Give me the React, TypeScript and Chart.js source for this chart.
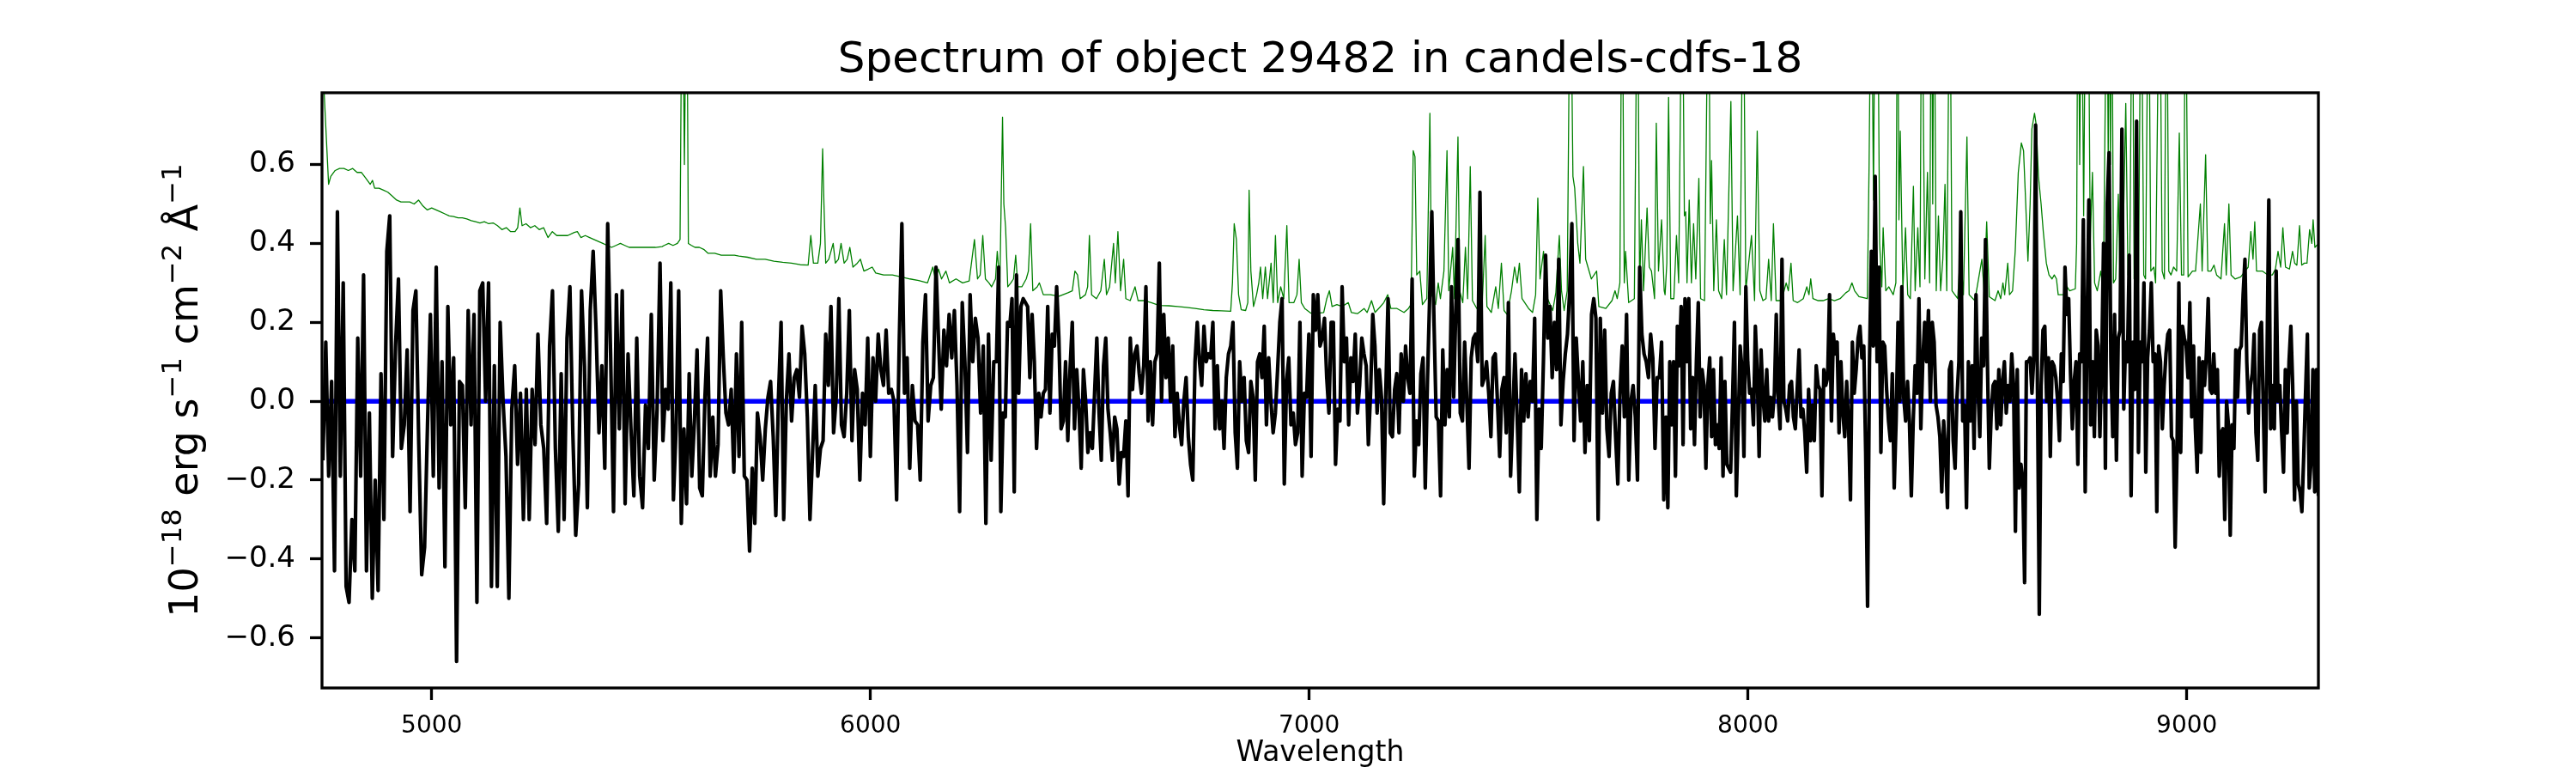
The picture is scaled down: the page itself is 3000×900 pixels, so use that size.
import React, { useEffect, useRef } from 'react';
import { Chart, registerables } from 'chart.js';

Chart.register(...registerables);

// ---- text ----
const TITLE = 'Spectrum of object 29482 in candels-cdfs-18';
const X_LABEL = 'Wavelength';
// y label as runs of [text, isSuperscript]
const Y_LABEL_RUNS: [string, boolean][] = [
  ['10', false], ['\u221218', true], [' erg s', false], ['\u22121', true],
  [' cm', false], ['\u22122', true], [' \u00C5', false], ['\u22121', true],
];

// ---- axes ----
const X_MIN = 4750;
const X_MAX = 9300;
const Y_MIN = -0.727;
const Y_MAX = 0.782;
const xTicks = [5000, 6000, 7000, 8000, 9000];
const yTicks = [-0.6, -0.4, -0.2, 0, 0.2, 0.4, 0.6];

const segmentEdges = [4752, 5527, 6287, 7050, 7813, 8576, 9300];

const fluxSeg1 = [
  -0.15, 0.15, -0.19, 0.05, -0.43, 0.48, -0.19, 0.30, -0.47, -0.51, -0.30, -0.43, 0.16, -0.19, 0.32, -0.43,
  -0.03, -0.50, -0.20, -0.48, 0.07, -0.30, 0.38, 0.47, -0.14, 0.14, 0.31, -0.12, -0.06, 0.13, -0.28, 0.23,
  0.28, -0.11, -0.44, -0.37, -0.06, 0.22, -0.19, 0.34, -0.22, 0.10, -0.42, 0.24, -0.06, 0.11, -0.66, 0.05,
  0.04, -0.27, 0.23, -0.06, 0.22, -0.51, 0.28, 0.30, 0.00, 0.30, -0.47, 0.09, -0.47, 0.20, 0.00, -0.14,
  -0.50, -0.02, 0.09, -0.16, 0.02, -0.30, 0.03, -0.30, 0.03, -0.11, 0.17, -0.06, -0.12, -0.31, 0.14, 0.28,
  -0.12, -0.33, 0.07, -0.30, 0.16, 0.29, -0.08, -0.34, -0.21, 0.28, 0.09, -0.27, 0.23, 0.38, 0.18, -0.08,
  0.09, -0.17, 0.45, 0.12, -0.28, 0.27, -0.07, 0.28, -0.26, 0.12, -0.07, -0.24, 0.16, -0.19, -0.27, -0.01,
  -0.12, 0.22, -0.20, -0.02, 0.35,
];
const fluxSeg2 = [
  -0.10, 0.03, -0.02, 0.30, -0.25, -0.07, 0.28, -0.31, -0.07, -0.26, 0.07, -0.19, -0.05, 0.13, -0.22, -0.24,
  0.01, 0.16, -0.19, -0.04, -0.19, -0.11, 0.28, 0.11, -0.03, -0.06, 0.03, -0.18, 0.12, -0.14, 0.20, -0.19,
  -0.20, -0.38, -0.17, -0.31, -0.03, -0.09, -0.20, -0.07, 0.01, 0.05, -0.09, -0.29, 0.01, 0.20, -0.30, 0.00,
  0.12, -0.05, 0.06, 0.08, 0.01, 0.19, 0.12, -0.04, -0.30, -0.13, 0.04, -0.19, -0.12, -0.10, 0.17, 0.04,
  0.24, -0.08, 0.01, 0.26, -0.06, -0.09, 0.02, 0.23, -0.10, 0.08, 0.03, -0.20, 0.02, -0.06, 0.16, -0.14,
  0.11, 0.00, 0.17, 0.08, 0.04, 0.18, 0.02, 0.03, 0.00, -0.25, 0.15, 0.45, 0.02, 0.11, -0.17, 0.04,
  -0.05, -0.06, -0.20, 0.15, 0.27, -0.05, 0.04, 0.06, 0.34, 0.15, -0.02, 0.18, 0.09, 0.22, 0.11, 0.23,
  0.04, -0.28, 0.25, 0.10, -0.13, 0.27, 0.10, 0.21, 0.16, -0.03, 0.14, -0.31, 0.17, -0.15, 0.10,
];
const fluxSeg3 = [
  0.10, 0.34, -0.28, -0.03, -0.04, 0.20, 0.19, 0.26, -0.23, 0.32, 0.02, 0.24, 0.26, 0.25, 0.24, 0.06,
  0.22, 0.10, -0.12, 0.02, -0.04, 0.02, 0.03, 0.24, -0.03, 0.17, 0.14, 0.29, 0.16, -0.07, -0.05, 0.10,
  -0.10, 0.08, 0.20, -0.07, 0.08, -0.02, -0.17, 0.08, 0.00, -0.13, -0.08, -0.12, 0.02, 0.16, -0.03, -0.15,
  0.09, 0.16, -0.02, -0.08, -0.15, -0.04, -0.07, -0.21, -0.13, -0.14, -0.05, -0.24, 0.16, 0.03, 0.12, 0.14,
  0.07, 0.02, 0.09, 0.29, -0.05, 0.10, -0.06, 0.10, 0.12, 0.35, 0.00, 0.22, 0.06, 0.16, 0.00, 0.14,
  -0.09, 0.02, -0.06, -0.11, 0.00, 0.06, -0.09, -0.16, -0.20, 0.10, 0.20, 0.10, 0.04, 0.19, 0.10, 0.12,
  0.11, 0.20, -0.07, 0.09, -0.07, 0.00, -0.12, 0.06, 0.12, 0.14, 0.20, -0.08, -0.17, 0.10, 0.00, 0.06,
  -0.10, -0.13, 0.05, 0.01, -0.20, 0.10, 0.12, 0.06, 0.19, -0.06, 0.11, 0.00, -0.08, -0.03, 0.08, 0.20,
  0.26, -0.21, 0.05, 0.11, -0.06, -0.03, -0.11, -0.08, 0.20, -0.19, 0.02, 0.01, 0.17, -0.14, 0.27, 0.18,
  0.27, 0.14, 0.16, 0.21, 0.06, -0.03,
];
const fluxSeg4 = [
  0.20, 0.20, -0.16, -0.02, -0.05, 0.29, 0.10, 0.16, -0.06, 0.11, 0.05, 0.17, -0.03, 0.04, 0.16, 0.12,
  0.09, -0.11, 0.02, 0.22, 0.14, -0.03, 0.08, 0.01, -0.26, 0.03, 0.26, -0.08, -0.09, 0.03, 0.07, -0.08,
  0.12, 0.00, 0.14, 0.06, 0.02, 0.31, -0.19, -0.05, -0.11, 0.07, 0.11, -0.22, 0.05, 0.26, 0.48, 0.20,
  -0.04, -0.05, -0.24, 0.13, -0.06, 0.08, -0.04, 0.29, 0.01, 0.24, 0.41, -0.03, -0.05, 0.15, 0.00, -0.17,
  0.11, 0.16, 0.17, 0.10, 0.53, 0.04, 0.06, 0.10, 0.02, -0.09, 0.11, 0.12, 0.00, -0.14, 0.03, 0.06,
  -0.08, 0.25, -0.19, -0.03, 0.12, -0.04, -0.23, 0.08, -0.05, 0.07, -0.04, 0.05, 0.00, 0.21, -0.30, -0.02,
  -0.12, 0.10, 0.37, 0.16, 0.24, 0.06, 0.20, 0.08, 0.36, -0.06, 0.05, 0.12, 0.17, 0.28, 0.45, -0.10,
  0.16, 0.05, -0.05, 0.10, -0.13, 0.04, -0.10, 0.22, 0.26, 0.21, -0.30, 0.21, -0.03, 0.18, -0.07, -0.14,
  0.02, 0.05, -0.09, -0.21, 0.02, 0.14, -0.04, 0.22, -0.20, 0.00, 0.04, -0.04, -0.20, 0.34, 0.17, 0.12,
  0.10, 0.06, 0.17, 0.11, -0.12, 0.06, 0.06, 0.15, -0.25,
];
const fluxSeg5 = [
  -0.04, -0.27, 0.10, -0.06, 0.10, -0.19, 0.19, 0.09, 0.24, -0.11, 0.26, 0.10, 0.26, -0.07, 0.06, -0.11,
  0.10, 0.25, -0.04, 0.08, 0.04, -0.17, 0.04, 0.11, -0.09, 0.08, -0.11, -0.06, -0.12, 0.11, -0.19, 0.05,
  -0.16, -0.17, -0.18, 0.00, 0.20, -0.24, -0.06, 0.14, 0.08, -0.14, 0.29, 0.10, 0.02, 0.03, -0.06, 0.19,
  0.07, -0.14, 0.13, 0.01, -0.05, 0.08, -0.05, 0.01, -0.04, 0.02, 0.22, 0.01, -0.07, 0.36, 0.00, -0.02,
  -0.05, 0.04, 0.05, -0.04, -0.07, 0.03, 0.13, -0.04, -0.02, -0.08, -0.18, 0.03, -0.10, -0.01, -0.10, 0.09,
  0.04, 0.03, -0.24, 0.08, 0.04, 0.06, 0.27, -0.05, 0.17, 0.12, 0.15, -0.08, 0.10, -0.03, -0.09, 0.05,
  -0.06, -0.25, 0.15, 0.02, 0.08, 0.16, 0.19, 0.11, 0.14, -0.13, -0.52, 0.10, 0.38, 0.14, 0.57, 0.10,
  0.34, -0.13, 0.15, 0.14, 0.03, -0.05, -0.10, 0.07, -0.22, -0.05, 0.20, 0.00, 0.29, 0.01, -0.05, 0.05,
  -0.05, -0.24, -0.05, 0.09, 0.02, 0.26, -0.07, 0.10, 0.20, 0.10, 0.23, 0.00, 0.20, 0.15, -0.01, -0.04,
  -0.09, -0.23, -0.05, -0.13, -0.27, 0.08, 0.10, -0.10, -0.17, 0.01, 0.10, 0.48, -0.05, -0.01, -0.27, 0.10,
  -0.05, 0.09, -0.12, 0.27, 0.04, -0.09, 0.16, 0.09, 0.41, 0.10, -0.17, -0.03, 0.04, 0.05, -0.07, 0.08,
];
const fluxSeg6 = [
  -0.06, 0.05, 0.10, -0.03, 0.04, 0.00, 0.12, 0.04, -0.33, 0.08, -0.22, -0.16, -0.20, -0.46, 0.10, 0.10,
  0.11, 0.02, 0.11, 0.70, 0.03, -0.54, 0.04, 0.18, 0.19, 0.00, 0.11, -0.14, 0.10, 0.09, 0.06, 0.00,
  -0.10, 0.12, 0.05, 0.34, 0.22, 0.26, 0.07, -0.07, 0.05, 0.10, -0.16, 0.12, 0.10, 0.46, -0.23, 0.18,
  0.51, -0.06, 0.10, -0.09, 0.18, 0.14, -0.09, 0.10, 0.40, -0.17, 0.50, 0.63, 0.10, -0.09, 0.22, -0.15,
  0.16, 0.18, 0.69, -0.02, 0.15, 0.10, 0.37, -0.24, 0.15, 0.03, 0.71, -0.13, 0.15, 0.10, 0.30, -0.18,
  0.11, 0.18, 0.30, 0.10, 0.12, -0.28, 0.14, 0.10, -0.07, 0.04, 0.12, 0.17, 0.18, -0.09, -0.10, -0.37,
  -0.13, 0.30, -0.13, 0.19, 0.16, 0.14, 0.06, 0.25, -0.04, 0.14, -0.07, -0.18, 0.11, -0.13, 0.10, 0.04,
  0.12, 0.26, 0.03, 0.02, 0.12, 0.02, 0.08, -0.19, -0.08, -0.07, -0.30, 0.00, -0.06, -0.34, -0.06, -0.12,
  0.13, 0.01, 0.13, 0.14, 0.27, 0.36, 0.10, -0.03, 0.04, 0.07, 0.17, -0.08, -0.15, 0.18, 0.20, -0.02,
  -0.23, 0.10, 0.51, -0.07, 0.04, -0.07, 0.33, 0.00, 0.04, -0.08, -0.18, 0.08, -0.08, 0.10, 0.19, 0.04,
  -0.25, 0.00, -0.21, -0.23, -0.28, -0.14, 0.02, 0.17, -0.22, -0.15, 0.08, -0.23, 0.08, -0.24,
];
const fluxSegments = [fluxSeg1, fluxSeg2, fluxSeg3, fluxSeg4, fluxSeg5, fluxSeg6];

// ---- noise spectrum (green): [wavelength, value] ----
const noiseSeg1: [number, number][] = [
  [4750, 1.2], [4755, 0.78], [4765, 0.55], [4770, 0.57], [4780, 0.585], [4790, 0.59], [4800, 0.59], [4810, 0.585],
  [4820, 0.59], [4830, 0.58], [4840, 0.58], [4850, 0.565], [4860, 0.55], [4865, 0.56], [4870, 0.54], [4880, 0.54],
  [4890, 0.535], [4900, 0.53], [4910, 0.52], [4920, 0.51], [4930, 0.505], [4940, 0.505], [4950, 0.505], [4960, 0.50],
  [4970, 0.51], [4980, 0.495], [4990, 0.485], [5000, 0.49], [5010, 0.485], [5020, 0.48], [5030, 0.475], [5040, 0.47],
  [5050, 0.468], [5060, 0.465], [5070, 0.465], [5080, 0.462], [5090, 0.458], [5100, 0.455], [5110, 0.452], [5120, 0.455],
  [5130, 0.45], [5140, 0.452], [5150, 0.445], [5160, 0.435], [5170, 0.44], [5180, 0.43], [5190, 0.43], [5196, 0.44],
  [5201, 0.49], [5206, 0.445], [5215, 0.45], [5225, 0.44], [5235, 0.445], [5245, 0.435], [5255, 0.44], [5265, 0.415],
  [5275, 0.43], [5285, 0.42], [5300, 0.42], [5310, 0.42], [5325, 0.428], [5332, 0.43], [5340, 0.415], [5350, 0.42],
  [5360, 0.415], [5370, 0.41], [5380, 0.405], [5390, 0.40], [5400, 0.395], [5410, 0.39], [5420, 0.395], [5430, 0.40],
  [5440, 0.395], [5450, 0.39], [5470, 0.39], [5490, 0.39], [5510, 0.39], [5525, 0.392],
];
const noiseSeg2: [number, number][] = [
  [5530, 0.395], [5540, 0.40], [5550, 0.395], [5560, 0.40], [5566, 0.41], [5571, 1.2], [5576, 0.6], [5581, 1.2],
  [5585, 0.40], [5592, 0.395], [5600, 0.39], [5610, 0.39], [5620, 0.385], [5630, 0.375], [5645, 0.375], [5660, 0.37],
  [5690, 0.37], [5700, 0.368], [5720, 0.365], [5740, 0.36], [5760, 0.36], [5780, 0.355], [5800, 0.352], [5820, 0.35],
  [5840, 0.346], [5858, 0.345], [5864, 0.42], [5870, 0.35], [5880, 0.35], [5886, 0.40], [5891, 0.64], [5894, 0.50],
  [5898, 0.35], [5905, 0.36], [5915, 0.40], [5920, 0.35], [5927, 0.36], [5933, 0.40], [5940, 0.35], [5947, 0.36],
  [5953, 0.39], [5960, 0.34], [5970, 0.35], [5977, 0.36], [5985, 0.33], [5995, 0.335], [6004, 0.34], [6012, 0.325],
  [6030, 0.32], [6050, 0.32], [6070, 0.315], [6090, 0.31], [6110, 0.306], [6130, 0.30], [6142, 0.34], [6148, 0.31],
  [6155, 0.335], [6162, 0.31], [6172, 0.33], [6180, 0.30], [6195, 0.31], [6210, 0.30], [6225, 0.305], [6237, 0.41],
  [6244, 0.31], [6250, 0.32], [6256, 0.42], [6262, 0.31], [6270, 0.30], [6276, 0.29],
];
const noiseSeg3: [number, number][] = [
  [6285, 0.31], [6289, 0.38], [6295, 0.30], [6301, 0.72], [6304, 0.50], [6308, 0.44], [6313, 0.29], [6320, 0.30],
  [6326, 0.31], [6331, 0.37], [6336, 0.29], [6345, 0.29], [6355, 0.31], [6360, 0.33], [6365, 0.45], [6370, 0.28],
  [6380, 0.29], [6385, 0.30], [6394, 0.27], [6410, 0.27], [6430, 0.266], [6450, 0.275], [6460, 0.28], [6466, 0.33],
  [6472, 0.32], [6478, 0.26], [6490, 0.27], [6495, 0.29], [6499, 0.42], [6504, 0.27], [6515, 0.26], [6525, 0.28],
  [6533, 0.36], [6538, 0.27], [6545, 0.29], [6554, 0.40], [6558, 0.30], [6564, 0.43], [6570, 0.28], [6577, 0.36],
  [6582, 0.26], [6592, 0.255], [6603, 0.29], [6610, 0.255], [6625, 0.255], [6640, 0.25], [6658, 0.243], [6680, 0.242],
  [6700, 0.24], [6720, 0.238], [6740, 0.235], [6760, 0.232], [6780, 0.23], [6800, 0.229], [6821, 0.228], [6825, 0.30],
  [6829, 0.45], [6834, 0.41], [6839, 0.27], [6845, 0.232], [6855, 0.23], [6860, 0.25], [6863, 0.535], [6867, 0.33],
  [6873, 0.24], [6880, 0.27], [6885, 0.30], [6889, 0.34], [6894, 0.26], [6900, 0.34], [6905, 0.26], [6913, 0.35],
  [6918, 0.25], [6923, 0.42], [6928, 0.25], [6935, 0.29], [6942, 0.26], [6949, 0.445], [6954, 0.25], [6965, 0.25],
  [6972, 0.27], [6977, 0.36], [6982, 0.25], [6990, 0.235], [7004, 0.223], [7020, 0.223], [7033, 0.225], [7040, 0.26],
  [7046, 0.28],
];
const noiseSeg4: [number, number][] = [
  [7052, 0.24], [7063, 0.245], [7075, 0.24], [7089, 0.25], [7096, 0.225], [7110, 0.222], [7125, 0.235], [7132, 0.225],
  [7142, 0.255], [7150, 0.225], [7160, 0.237], [7170, 0.25], [7179, 0.27], [7186, 0.235], [7200, 0.235], [7216, 0.225],
  [7226, 0.235], [7232, 0.245], [7237, 0.635], [7241, 0.62], [7245, 0.32], [7252, 0.33], [7258, 0.245], [7268, 0.26],
  [7275, 0.73], [7279, 0.27], [7288, 0.245], [7294, 0.30], [7299, 0.26], [7307, 0.33], [7314, 0.635], [7318, 0.28],
  [7327, 0.39], [7331, 0.26], [7339, 0.67], [7343, 0.28], [7350, 0.25], [7356, 0.39], [7361, 0.26], [7367, 0.595],
  [7372, 0.255], [7382, 0.235], [7394, 0.24], [7401, 0.42], [7405, 0.24], [7415, 0.225], [7425, 0.29], [7431, 0.235],
  [7438, 0.35], [7444, 0.23], [7451, 0.22], [7461, 0.28], [7468, 0.34], [7474, 0.30], [7479, 0.35], [7485, 0.26],
  [7500, 0.235], [7509, 0.225], [7516, 0.27], [7521, 0.515], [7526, 0.31], [7534, 0.38], [7539, 0.27], [7555, 0.23],
  [7562, 0.275], [7570, 0.42], [7575, 0.28], [7581, 0.23], [7588, 0.28], [7595, 1.2], [7601, 0.57], [7605, 0.54],
  [7612, 0.40], [7617, 0.35], [7625, 0.595], [7630, 0.36], [7643, 0.31], [7655, 0.33], [7660, 0.24], [7676, 0.235],
  [7690, 0.255], [7697, 0.28], [7702, 0.26], [7708, 0.30], [7713, 1.2], [7718, 0.30], [7721, 0.38], [7728, 0.25],
  [7741, 0.26], [7748, 1.2], [7753, 0.29], [7757, 0.46], [7762, 0.28], [7770, 0.49], [7775, 0.34], [7780, 0.33],
  [7787, 0.26], [7791, 0.705], [7796, 0.33], [7803, 0.46], [7809, 0.28],
];
const noiseSeg5: [number, number][] = [
  [7811, 0.27], [7815, 0.35], [7819, 0.77], [7824, 0.26], [7831, 0.26], [7837, 0.42], [7842, 0.30], [7850, 1.2],
  [7855, 0.47], [7858, 0.48], [7861, 0.30], [7866, 0.51], [7871, 0.30], [7876, 0.45], [7881, 0.31], [7888, 0.565],
  [7892, 0.26], [7901, 0.255], [7910, 1.2], [7914, 0.45], [7917, 0.61], [7922, 0.28], [7928, 0.46], [7933, 0.28],
  [7940, 0.26], [7946, 0.41], [7951, 0.27], [7961, 0.76], [7966, 0.28], [7976, 0.47], [7982, 0.27], [7989, 1.2],
  [7995, 0.28], [8008, 0.42], [8015, 0.255], [8021, 0.685], [8027, 0.28], [8034, 0.255], [8041, 0.26], [8047, 0.36],
  [8053, 0.255], [8058, 0.45], [8064, 0.255], [8073, 0.255], [8080, 0.27], [8087, 0.30], [8092, 0.28], [8098, 0.35],
  [8103, 0.255], [8113, 0.25], [8126, 0.26], [8134, 0.29], [8139, 0.27], [8143, 0.31], [8148, 0.26], [8160, 0.255],
  [8171, 0.255], [8184, 0.26], [8197, 0.255], [8210, 0.26], [8223, 0.275], [8230, 0.28], [8237, 0.30], [8243, 0.28],
  [8253, 0.265], [8272, 0.26], [8276, 0.60], [8281, 1.2], [8286, 0.51], [8290, 1.2], [8295, 1.2], [8300, 0.40],
  [8305, 0.29], [8308, 0.44], [8314, 0.28], [8321, 0.29], [8331, 0.27], [8337, 0.30], [8341, 1.2], [8344, 0.46],
  [8347, 0.685], [8353, 0.28], [8359, 0.44], [8364, 0.27], [8370, 0.26], [8377, 0.545], [8381, 0.28], [8387, 0.44],
  [8392, 0.29], [8396, 1.2], [8403, 0.31], [8409, 0.58], [8414, 0.30], [8418, 1.2], [8421, 0.5], [8424, 1.2],
  [8429, 0.28], [8434, 0.47], [8439, 0.28], [8444, 0.36], [8449, 0.55], [8453, 0.28], [8460, 1.2], [8465, 0.28],
  [8478, 0.26], [8484, 0.38], [8491, 0.27], [8499, 0.67], [8504, 0.27], [8517, 0.255], [8533, 0.36], [8538, 0.28],
  [8544, 0.455], [8550, 0.265], [8563, 0.255], [8570, 0.28], [8576, 0.26],
];
const noiseSeg6: [number, number][] = [
  [8581, 0.30], [8585, 0.27], [8592, 0.35], [8596, 0.27], [8603, 0.28], [8609, 0.38], [8616, 0.58], [8623, 0.655],
  [8628, 0.635], [8633, 0.50], [8638, 0.355], [8643, 0.50], [8647, 0.69], [8653, 0.73], [8657, 0.70], [8662, 0.57],
  [8668, 0.50], [8673, 0.43], [8680, 0.35], [8686, 0.32], [8693, 0.31], [8698, 0.32], [8703, 0.31], [8707, 0.27],
  [8719, 0.27], [8727, 0.29], [8733, 0.28], [8746, 0.285], [8749, 0.40], [8752, 1.2], [8756, 0.6], [8760, 1.2],
  [8765, 0.47], [8770, 1.2], [8775, 1.2], [8780, 0.40], [8785, 0.58], [8790, 0.30], [8796, 0.28], [8804, 0.33],
  [8810, 0.28], [8818, 1.2], [8821, 0.6], [8823, 1.2], [8826, 0.6], [8829, 1.2], [8833, 0.30], [8838, 0.31],
  [8844, 0.525], [8848, 0.30], [8853, 0.30], [8861, 0.755], [8866, 0.32], [8870, 0.33], [8876, 1.2], [8880, 0.31],
  [8885, 0.38], [8890, 0.30], [8896, 1.2], [8902, 0.32], [8906, 0.31], [8913, 1.2], [8918, 0.33], [8925, 0.34],
  [8929, 0.30], [8938, 1.2], [8944, 0.33], [8949, 0.31], [8954, 1.2], [8959, 0.33], [8964, 0.32], [8970, 0.34],
  [8977, 0.33], [8983, 0.68], [8988, 0.32], [8993, 0.32], [8997, 1.2], [9003, 0.315], [9013, 0.33], [9020, 0.33],
  [9031, 0.50], [9035, 0.33], [9043, 0.625], [9048, 0.33], [9055, 0.33], [9062, 0.345], [9068, 0.32], [9078, 0.31],
  [9086, 0.45], [9090, 0.32], [9096, 0.50], [9101, 0.32], [9110, 0.31], [9123, 0.315], [9133, 0.33], [9140, 0.34],
  [9146, 0.43], [9151, 0.36], [9155, 0.455], [9159, 0.33], [9172, 0.33], [9185, 0.32], [9195, 0.32], [9202, 0.335],
  [9208, 0.38], [9214, 0.34], [9219, 0.44], [9225, 0.34], [9234, 0.335], [9241, 0.38], [9246, 0.35], [9251, 0.345],
  [9257, 0.445], [9262, 0.345], [9268, 0.35], [9274, 0.35], [9280, 0.435], [9285, 0.40], [9288, 0.46], [9292, 0.39],
  [9296, 0.395], [9302, 0.40],
];
const noiseSegments = [noiseSeg1, noiseSeg2, noiseSeg3, noiseSeg4, noiseSeg5, noiseSeg6];

// ---- model (blue) ----
const modelWave = [4752, 9288];
const modelFlux = [0, 0];

const FONT = '"DejaVu Sans", sans-serif';

function buildFluxPoints() {
  const pts: { x: number; y: number }[] = [];
  fluxSegments.forEach((seg, s) => {
    const a = segmentEdges[s];
    const b = segmentEdges[s + 1];
    const last = s === fluxSegments.length - 1;
    const step = (b - a) / (last ? seg.length - 1 : seg.length);
    seg.forEach((v, i) => pts.push({ x: a + i * step, y: v }));
  });
  return pts;
}

const fmtY = (v: number) => (v < -1e-9 ? '\u2212' : '') + Math.abs(v).toFixed(1);

// title, axis labels and frame drawn like matplotlib
const decorations = {
  id: 'decorations',
  afterDraw(chart: any) {
    const { ctx, chartArea: a } = chart;
    ctx.save();
    ctx.strokeStyle = '#000';
    ctx.lineWidth = 3.3;
    ctx.strokeRect(a.left, a.top, a.right - a.left, a.bottom - a.top);

    const cx = (a.left + a.right) / 2;
    ctx.fillStyle = '#000';
    ctx.textAlign = 'center';
    ctx.textBaseline = 'alphabetic';
    ctx.font = `50px ${FONT}`;
    ctx.fillText(TITLE, cx, 84);
    ctx.font = `33px ${FONT}`;
    ctx.fillText(X_LABEL, cx, 886);

    const main = 46;
    const sup = main * 0.7;
    let total = 0;
    Y_LABEL_RUNS.forEach(([t, s]) => {
      ctx.font = `${s ? sup : main}px ${FONT}`;
      total += ctx.measureText(t).width;
    });
    ctx.translate(230, (a.top + a.bottom) / 2);
    ctx.rotate(-Math.PI / 2);
    ctx.textAlign = 'left';
    let x = -total / 2;
    Y_LABEL_RUNS.forEach(([t, s]) => {
      ctx.font = `${s ? sup : main}px ${FONT}`;
      ctx.fillText(t, x, s ? -main * 0.42 : 0);
      x += ctx.measureText(t).width;
    });
    ctx.restore();
  },
};

export default function App() {
  const canvasRef = useRef<HTMLCanvasElement | null>(null);
  const chartRef = useRef<Chart | null>(null);

  useEffect(() => {
    document.body.style.margin = '0';
    if (!canvasRef.current) return;
    chartRef.current?.destroy();

    const fluxPoints = buildFluxPoints();
    const noisePoints = noiseSegments.flat().map(([x, y]) => ({ x, y }));
    const modelPoints = modelWave.map((x, i) => ({ x, y: modelFlux[i] }));

    chartRef.current = new Chart(canvasRef.current, {
      type: 'line',
      data: {
        datasets: [
          {
            label: 'flux', data: fluxPoints, borderColor: '#000000', borderWidth: 4.2,
            pointRadius: 0, tension: 0, order: 0, clip: 0, borderJoinStyle: 'round',
          },
          {
            label: 'model', data: modelPoints, borderColor: '#0000ff', borderWidth: 5.5,
            pointRadius: 0, tension: 0, order: 1, clip: 0,
          },
          {
            label: 'noise', data: noisePoints, borderColor: '#008000', borderWidth: 1.3,
            pointRadius: 0, tension: 0, order: 2, clip: 0, borderJoinStyle: 'round',
          },
        ],
      },
      options: {
        animation: false,
        responsive: false,
        maintainAspectRatio: false,
        devicePixelRatio: 1,
        events: [],
        layout: { padding: { left: 0, right: 300, top: 108, bottom: 0 } },
        plugins: { legend: { display: false }, tooltip: { enabled: false }, title: { display: false } },
        scales: {
          x: {
            type: 'linear', min: X_MIN, max: X_MAX,
            afterBuildTicks: (s: any) => { s.ticks = xTicks.map((value) => ({ value })); },
            afterFit: (s: any) => { s.height = 99; },
            grid: { display: true, drawOnChartArea: false, drawTicks: true, tickLength: 14, tickWidth: 3.3, tickColor: '#000' },
            border: { display: false },
            ticks: {
              color: '#000', font: { family: FONT, size: 28 }, padding: 14, maxRotation: 0, autoSkip: false,
              callback: (v: any) => String(v),
            },
          },
          y: {
            type: 'linear', min: Y_MIN, max: Y_MAX,
            afterBuildTicks: (s: any) => { s.ticks = yTicks.map((value) => ({ value })); },
            afterFit: (s: any) => { s.width = 375; },
            grid: { display: true, drawOnChartArea: false, drawTicks: true, tickLength: 14, tickWidth: 3.3, tickColor: '#000' },
            border: { display: false },
            ticks: {
              color: '#000', font: { family: FONT, size: 34 }, padding: 17, autoSkip: false,
              callback: (v: any) => fmtY(Number(v)),
            },
          },
        },
      },
      plugins: [decorations],
    } as any);

    return () => chartRef.current?.destroy();
  }, []);

  return (
    <div style={{ width: 3000, height: 900, background: '#fff' }}>
      <canvas ref={canvasRef} width={3000} height={900} style={{ display: 'block' }} />
    </div>
  );
}
